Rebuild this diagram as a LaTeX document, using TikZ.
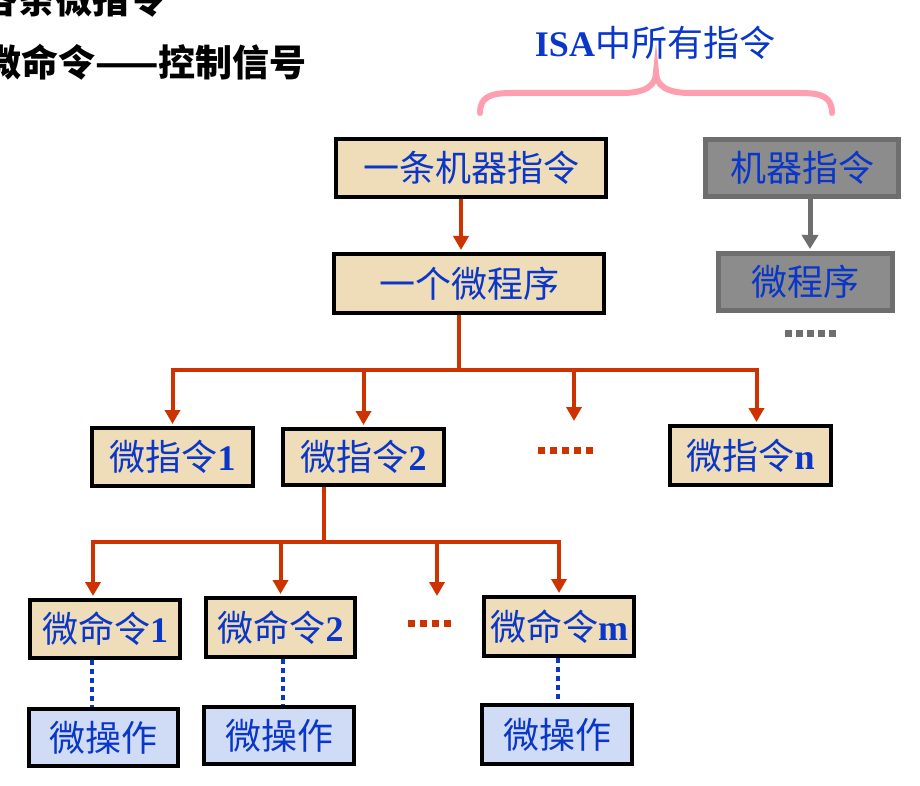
\documentclass[tikz,border=0pt]{standalone}
\usepackage{fontspec}
\setmainfont{Liberation Serif}
\newfontfamily\cjk{Noto Sans CJK SC}
\newfontfamily\latinb{Liberation Serif}
\newcommand{\numb}[1]{{\latinb\bfseries #1}}
\usetikzlibrary{arrows.meta}
\definecolor{txtblue}{RGB}{10,55,200}
\definecolor{redline}{RGB}{204,51,0}
\definecolor{tan}{RGB}{238,221,184}
\definecolor{lblue}{RGB}{208,220,245}
\definecolor{gfill}{RGB}{140,140,140}
\definecolor{gline}{RGB}{110,110,110}
\definecolor{bracepink}{RGB}{255,158,174}
\tikzset{
  tanbox/.style={draw=black, line width=4pt, fill=tan, inner sep=0pt, text=txtblue, font=\fontsize{36}{40}\selectfont},
  opbox/.style={draw=black, line width=4pt, fill=lblue, inner sep=0pt, text=txtblue, font=\fontsize{36}{40}\selectfont},
  graybox/.style={draw=gline, line width=5pt, fill=gfill, inner sep=0pt, text=txtblue, font=\fontsize{36}{40}\selectfont},
  rl/.style={draw=redline, line width=4pt},
  rla/.style={draw=redline, line width=4pt, -{Triangle[width=15pt,length=14pt]}, shorten >=2pt},
  gla/.style={draw=gline, line width=5pt, -{Triangle[width=16pt,length=14pt]}, shorten >=2pt},
  bdot/.style={draw=txtblue, line width=4pt, dash pattern=on 5pt off 4pt},
  rdots/.style={draw=redline, line width=7pt, dash pattern=on 7pt off 5pt},
  gdots/.style={draw=gline, line width=7pt, dash pattern=on 7pt off 4pt},
  head/.style={font=\cjk\bfseries\fontsize{37}{40}\selectfont, inner sep=0pt}
}
\begin{document}
\begin{tikzpicture}[x=1pt,y=-1pt]
\useasboundingbox (0,0) rectangle (920,786);
\clip (0,0) rectangle (920,786);
\fill[white] (0,0) rectangle (920,786);

% top-left heading (cut off at the picture's edge, as in the reference)
\node[head, anchor=west] (h1) at (-19,-1) {各条微指令};
\node[head, anchor=west] (h2) at (-16,62) {微命令——控制信号};

% ISA label and brace
\node[text=txtblue, font=\fontsize{36}{40}\selectfont, inner sep=0pt] (isa) at (655,43) {\textbf{ISA}\cjk 中所有指令};
\draw[bracepink, line width=6pt, line cap=round]
  (480,113) .. controls (480,97) and (490,93) .. (512,93) -- (622,93)
  .. controls (645,93) and (656,86) .. (656,72)
  .. controls (656,86) and (667,93) .. (690,93) -- (800,93)
  .. controls (822,93) and (832,97) .. (832,113);

% level 1
\node[tanbox, minimum width=270pt, minimum height=58pt] (m1) at (471,168) {\cjk 一条机器指令};
\node[tanbox, minimum width=270pt, minimum height=59pt] (mp) at (469,283.5) {\cjk 一个微程序};
\draw[rla] ([xshift=-10pt]m1.south) -- ([xshift=-10pt]m1.south |- mp.north);

% gray side
\node[graybox, minimum width=193pt, minimum height=57pt] (g1) at (802,168) {\cjk 机器指令};
\node[graybox, minimum width=174pt, minimum height=57pt] (g2) at (805.5,282) {\cjk 微程序};
\draw[gla] ([xshift=8pt]g1.south) -- ([xshift=8pt]g1.south |- g2.north);
\draw[gdots] (785,333) -- (837,333);

% micro-instructions
\node[tanbox, minimum width=161pt, minimum height=58pt] (mi1) at (172.5,457) {\cjk 微指令\numb{1}};
\node[tanbox, minimum width=161pt, minimum height=56pt] (mi2) at (363.5,457) {\cjk 微指令\numb{2}};
\node[tanbox, minimum width=161pt, minimum height=59pt] (min) at (750.5,455.5) {\cjk 微指令\numb{n}};
\coordinate (d1) at (574,423);
\draw[rl] ([xshift=-10pt]mp.south) -- ++(0,55) coordinate (b1);
\draw[rla] (b1) -| (mi1.north);
\draw[rla] (b1) -| ([xshift=6pt]min.north);
\draw[rla] (mi2.north |- b1) -- (mi2.north);
\draw[rla] (d1 |- b1) -- (d1);
\draw[rdots] (538,450) -- (594,450);

% micro-commands
\node[tanbox, minimum width=150pt, minimum height=58pt] (mc1) at (105,629) {\cjk 微命令\numb{1}};
\node[tanbox, minimum width=149pt, minimum height=59pt] (mc2) at (280.5,627.5) {\cjk 微命令\numb{2}};
\node[tanbox, minimum width=150pt, minimum height=59pt] (mcm) at (559,626.5) {\cjk 微命令\numb{m}};
\coordinate (d2) at (437,598);
\draw[rl] ([xshift=-40pt]mi2.south) -- ++(0,55) coordinate (b2);
\draw[rla] (b2) -| ([xshift=-12pt]mc1.north);
\draw[rla] (b2) -| (mcm.north);
\draw[rla] (mc2.north |- b2) -- (mc2.north);
\draw[rla] (d2 |- b2) -- (d2);
\draw[rdots] (408,623) -- (452,623);

% micro-operations
\node[opbox, minimum width=149pt, minimum height=57pt] (mo1) at (103.5,737.5) {\cjk 微操作};
\node[opbox, minimum width=150pt, minimum height=57pt] (mo2) at (279,735.5) {\cjk 微操作};
\node[opbox, minimum width=150pt, minimum height=59pt] (mo3) at (557,734.5) {\cjk 微操作};
\draw[bdot] ([xshift=-13pt]mc1.south) -- ([xshift=-13pt]mc1.south |- mo1.north);
\draw[bdot] ([xshift=2pt]mc2.south) -- ([xshift=2pt]mc2.south |- mo2.north);
\draw[bdot] ([xshift=-1pt]mcm.south) -- ([xshift=-1pt]mcm.south |- mo3.north);
\end{tikzpicture}
\end{document}
